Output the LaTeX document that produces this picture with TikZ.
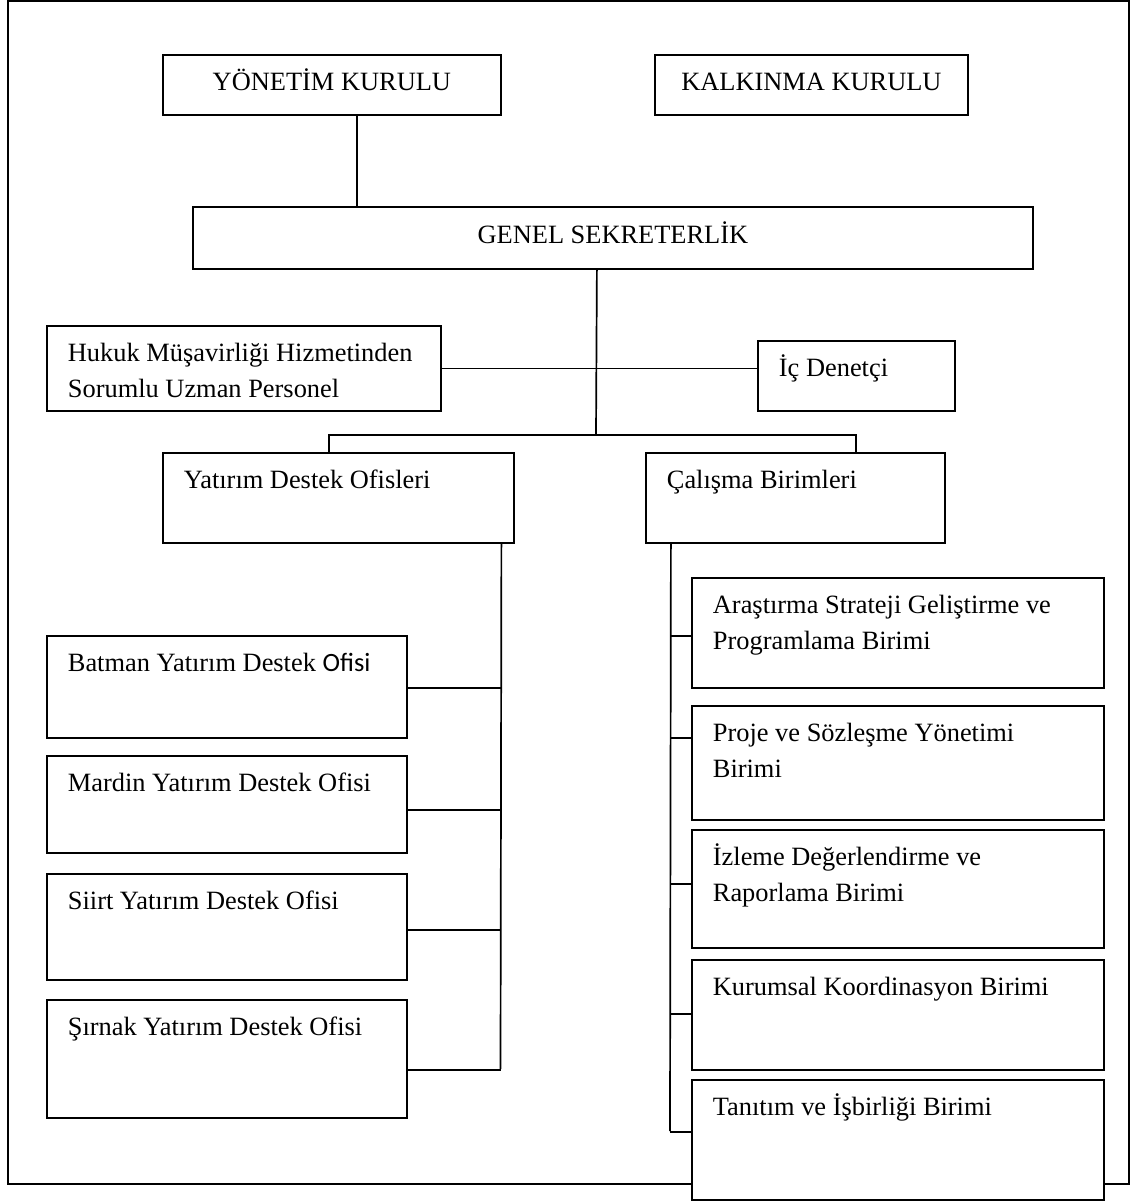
\documentclass[tikz,border=0pt]{standalone}
\usepackage{fontspec}
\setmainfont{Liberation Serif}
\newfontfamily\calfont{Carlito}
\usetikzlibrary{positioning}
\newcommand{\orgfont}{\fontsize{26.4pt}{35.5pt}\selectfont}
\newcommand{\ubox}[3]{\parbox[t][#2pt][t]{\dimexpr#1pt-42pt\relax}{\raggedright\vspace*{11pt}\strut#3}}

\begin{document}
\begin{tikzpicture}[x=1pt,y=-1pt,
	unit/.style={draw, fill=white, line width=1.8pt, inner xsep=21pt, inner ysep=0pt, anchor=north west, font=\orgfont},
	head/.style={draw, fill=white, line width=1.8pt, inner sep=0pt, anchor=north west, font=\orgfont, text height=18pt, text depth=6pt},
	link/.style={line width=1.7pt}]
	\useasboundingbox (0,0) rectangle (1138,1202);
	% frame
	\draw[line width=2.2pt] (8,1) rectangle (1129,1184);
	% top of the chart
	\node[head, minimum width=338pt, minimum height=60pt] (yk) at (162,54) {YÖNETİM KURULU};
	\node[head, minimum width=313pt, minimum height=60pt] (kk) at (654,54) {KALKINMA KURULU};
	\node[head, minimum width=840pt, minimum height=62pt] (gs) at (192,206) {GENEL SEKRETERLİK};
	\node[unit] (hk) at (46,325) {\ubox{394}{85}{Hukuk Müşavirliği Hizmetinden\\Sorumlu Uzman Personel}};
	\node[unit] (ic) at (757,340) {\ubox{197}{70}{İç Denetçi}};
	\node[unit] (yd) at (162,452) {\ubox{351}{90}{Yatırım Destek Ofisleri}};
	\node[unit] (cb) at (645,452) {\ubox{299}{90}{Çalışma Birimleri}};
	% offices
	\node[unit] (bat) at (46,635) {\ubox{360}{102}{Batman Yatırım Destek {\calfont Ofisi}}};
	\node[unit] (mar) at (46,755) {\ubox{360}{97}{Mardin Yatırım Destek Ofisi}};
	\node[unit] (sii) at (46,873) {\ubox{360}{106}{Siirt Yatırım Destek Ofisi}};
	\node[unit] (sir) at (46,999) {\ubox{360}{118}{Şırnak Yatırım Destek Ofisi}};
	% units
	\node[unit] (ar) at (691,577) {\ubox{412}{110}{Araştırma Strateji Geliştirme ve\\Programlama Birimi}};
	\node[unit] (pr) at (691,705) {\ubox{412}{114}{Proje ve Sözleşme Yönetimi\\Birimi}};
	\node[unit] (iz) at (691,829) {\ubox{412}{118}{İzleme Değerlendirme ve\\Raporlama Birimi}};
	\node[unit] (ku) at (691,959) {\ubox{412}{110}{Kurumsal Koordinasyon Birimi}};
	\node[unit] (ta) at (691,1079) {\ubox{412}{120}{Tanıtım ve İşbirliği Birimi}};
	% connectors
	\draw[link] ([xshift=25pt]yk.south) -- ([xshift=25pt]yk.south |- gs.north);
	\coordinate (bar) at (596,435);
	\draw[link] ([xshift=-16pt]gs.south) -- (bar);
	\draw[link] ([xshift=-9.5pt]yd.north) |- (bar) -| ([xshift=60.5pt]cb.north);
	\draw[link] (hk.east) -- (hk.east -| ic.west);
	\coordinate (yt) at (500.5,1069);
	\draw[link] ([xshift=163pt]yd.south) -- (yt);
	\foreach \n/\d in {bat/-1,mar/-5.5,sii/-3,sir/-11}
	\draw[link] ([yshift=\d pt]\n.east) -- ([yshift=\d pt]\n.east -| yt);
	\coordinate (ct) at (670,1131);
	\draw[link] ([xshift=-124.5pt]cb.south) -- (ct);
	\foreach \n/\d in {ar/-3,pr/25,iz/5,ku/1,ta/8}
	\draw[link] ([yshift=\d pt]\n.west -| ct) -- ([yshift=\d pt]\n.west);
\end{tikzpicture}
\end{document}
